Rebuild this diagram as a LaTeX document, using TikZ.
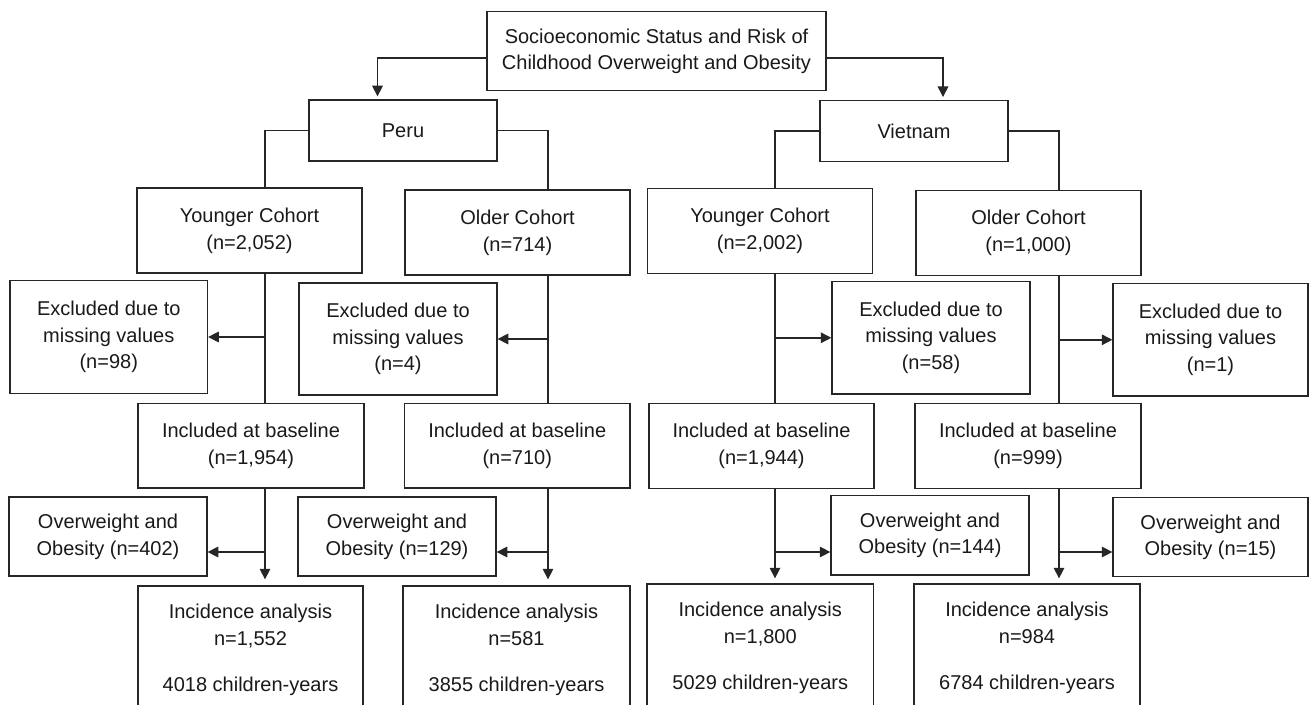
\documentclass[tikz,border=0pt]{standalone}
\usepackage{fontspec}
\setmainfont{Liberation Sans}
\usetikzlibrary{arrows.meta,calc}
\begin{document}
\begin{tikzpicture}[x=0.5pt,y=-0.5pt,
  bx/.style 2 args={draw=black!85, line width=0.65pt, align=center, inner sep=0pt,
    minimum width=#1, minimum height=#2, text=black!90,
    font=\fontsize{10}{13.35}\selectfont},
  ln/.style={line width=0.7pt, draw=black!85},
  arr/.style={ln, -{Triangle[length=5.3pt,width=5.3pt]}}]
\useasboundingbox (0,0) rectangle (1309,705);
\begin{scope}
\clip (0,0) rectangle (1309,705);
% top
\node[bx={169.5pt}{39.5pt}] (top) at (656.5,51.2) {Socioeconomic Status and Risk of\\Childhood Overweight and Obesity};
\node[bx={94pt}{30.5pt}] (peru) at (403,130.5) {Peru};
\node[bx={94pt}{30.5pt}] (vn) at (914,131.2) {Vietnam};
% cohorts
\node[bx={112.5pt}{42.5pt}] (pyc) at (249.5,230.5) {Younger Cohort\\(n=2,052)};
\node[bx={112.5pt}{42.5pt}] (poc) at (517.5,232.5) {Older Cohort\\(n=714)};
\node[bx={112.5pt}{42.5pt}] (vyc) at (760,230.8) {Younger Cohort\\(n=2,002)};
\node[bx={112.5pt}{42.5pt}] (voc) at (1028.5,232.8) {Older Cohort\\(n=1,000)};
% excluded
\node[bx={98.75pt}{56.3pt}] (pex1) at (108.75,337) {Excluded due to\\missing values\\(n=98)};
\node[bx={99pt}{56pt}] (pex2) at (398,339) {Excluded due to\\missing values\\(n=4)};
\node[bx={99pt}{56.2pt}] (vex1) at (931,337.8) {Excluded due to\\missing values\\(n=58)};
\node[bx={97.5pt}{56.2pt}] (vex2) at (1210.5,339.8) {Excluded due to\\missing values\\(n=1)};
% included
\node[bx={113pt}{42.3pt}] (pin1) at (251,445.7) {Included at baseline\\(n=1,954)};
\node[bx={112.75pt}{42.3pt}] (pin2) at (517.25,445.7) {Included at baseline\\(n=710)};
\node[bx={112.5pt}{42.3pt}] (vin1) at (761.5,446) {Included at baseline\\(n=1,944)};
\node[bx={113pt}{42.3pt}] (vin2) at (1028,446) {Included at baseline\\(n=999)};
% overweight
\node[bx={99pt}{39.5pt}] (pow1) at (108,536.5) {Overweight and\\Obesity (n=402)};
\node[bx={99pt}{39.5pt}] (pow2) at (397,536.5) {Overweight and\\Obesity (n=129)};
\node[bx={99pt}{39.6pt}] (vow1) at (930,535.4) {Overweight and\\Obesity (n=144)};
\node[bx={97.5pt}{39.5pt}] (vow2) at (1210.5,537.2) {Overweight and\\Obesity (n=15)};
% incidence
\node[bx={112.5pt}{64pt}] (pic1) at (250.5,650) {Incidence analysis\\n=1,552\\[9.6pt]4018 children-years};
\node[bx={113.5pt}{64pt}] (pic2) at (516.5,650) {Incidence analysis\\n=581\\[9.6pt]3855 children-years};
\node[bx={113.25pt}{64pt}] (vic1) at (760.25,648) {Incidence analysis\\n=1,800\\[9.6pt]5029 children-years};
\node[bx={113pt}{64pt}] (vic2) at (1027,648) {Incidence analysis\\n=984\\[9.6pt]6784 children-years};
\end{scope}
% trunk coordinates
\coordinate (aL) at (377.5,0);
\coordinate (aR) at (943,0);
\coordinate (tPY) at (265,0);
\coordinate (tPO) at (548,0);
\coordinate (tVY) at (775,0);
\coordinate (tVO) at (1059,0);
% top connectors
\draw[arr, shorten >=1.5pt] ($(top.west)+(0,7)$) -| (aL |- peru.north);
\draw[arr, shorten >=1.5pt] ($(top.east)+(0,7)$) -| (aR |- vn.north);
% country to cohorts
\draw[ln] (peru.west) -| (tPY |- pyc.north);
\draw[ln] (peru.east) -| (tPO |- poc.north);
\draw[ln] (vn.west) -| (tVY |- vyc.north);
\draw[ln] (vn.east) -| (tVO |- voc.north);
% cohorts to included
\draw[ln] (tPY |- pyc.south) -- (tPY |- pin1.north);
\draw[ln] (tPO |- poc.south) -- (tPO |- pin2.north);
\draw[ln] (tVY |- vyc.south) -- (tVY |- vin1.north);
\draw[ln] (tVO |- voc.south) -- (tVO |- vin2.north);
% excluded arrows
\draw[arr] (tPY |- pex1.east) -- (pex1.east);
\draw[arr] (tPO |- pex2.east) -- (pex2.east);
\draw[arr] (tVY |- vex1.west) -- (vex1.west);
\draw[arr] (tVO |- vex2.west) -- (vex2.west);
% included to incidence
\draw[arr, shorten >=3pt] (tPY |- pin1.south) -- (tPY |- pic1.north);
\draw[arr, shorten >=3pt] (tPO |- pin2.south) -- (tPO |- pic2.north);
\draw[arr, shorten >=2.5pt] (tVY |- vin1.south) -- (tVY |- vic1.north);
\draw[arr, shorten >=2.5pt] (tVO |- vin2.south) -- (tVO |- vic2.north);
% overweight arrows
\coordinate (o1) at ($(pow1.east)+(0,15.5)$);
\coordinate (o2) at ($(pow2.east)+(0,15.5)$);
\coordinate (o3) at ($(vow1.west)+(0,16.6)$);
\coordinate (o4) at ($(vow2.west)+(0,14.8)$);
\draw[arr] (tPY |- o1) -- (o1);
\draw[arr] (tPO |- o2) -- (o2);
\draw[arr] (tVY |- o3) -- (o3);
\draw[arr] (tVO |- o4) -- (o4);
\end{tikzpicture}
\end{document}
